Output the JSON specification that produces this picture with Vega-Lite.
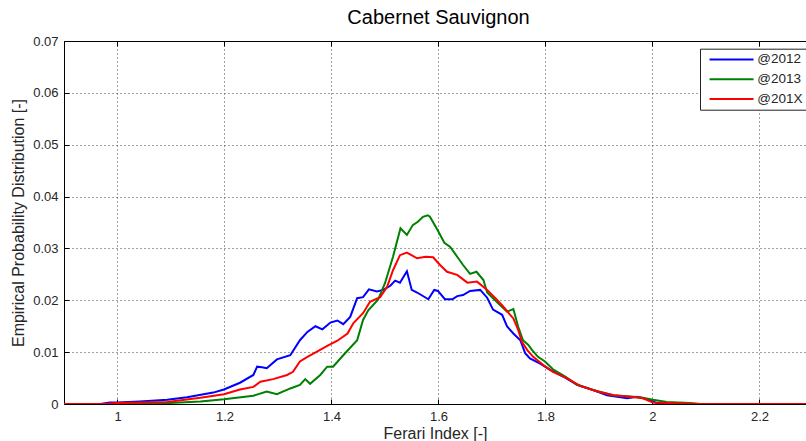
{
  "$schema": "https://vega.github.io/schema/vega-lite/v6.json",
  "width": 742,
  "height": 363,
  "autosize": {"type": "none"},
  "padding": {"left": 64, "top": 41, "right": 0, "bottom": 37},
  "background": "#ffffff",
  "title": {"text": "Cabernet Sauvignon", "font": "Liberation Sans", "fontSize": 20, "fontWeight": "normal", "color": "#000000", "anchor": "middle", "frame": "group", "dx": 3.5, "dy": 20, "offset": 11, "baseline": "alphabetic"},
  "config": {
    "view": {"stroke": null},
    "font": "Liberation Sans",
    "axis": {
      "labelFont": "Liberation Sans", "labelFontSize": 13, "labelColor": "#262626",
      "titleFont": "Liberation Sans", "titleFontSize": 16, "titleFontWeight": "normal", "titleColor": "#262626",
      "domainColor": "#000000", "domainWidth": 1, "tickColor": "#000000", "tickWidth": 1,
      "gridColor": "#444444", "gridDash": [1, 3], "gridWidth": 1, "gridOpacity": 1
    },
    "legend": {
      "orient": "none", "legendX": 636, "legendY": 7.7, "title": null,
      "strokeColor": "#222222", "fillColor": "#ffffff", "padding": 4, "cornerRadius": 0,
      "symbolType": "M-4,0L4,0", "symbolSize": 121, "symbolStrokeWidth": 2, "symbolOffset": 20.8,
      "labelFont": "Liberation Sans", "labelFontSize": 13.5, "labelColor": "#262626", "labelOffset": 19,
      "rowPadding": 4.8
    }
  },
  "data": {"values": [
    {"s":"@2012","x":0.9,"y":0},{"s":"@2012","x":0.968,"y":0},{"s":"@2012","x":0.986,"y":0.0003},{"s":"@2012","x":0.999,"y":0.0003},{"s":"@2012","x":1.042,"y":0.0005},{"s":"@2012","x":1.093,"y":0.0008},{"s":"@2012","x":1.13,"y":0.0013},{"s":"@2012","x":1.179,"y":0.0022},{"s":"@2012","x":1.199,"y":0.0028},{"s":"@2012","x":1.229,"y":0.0041},{"s":"@2012","x":1.254,"y":0.0056},{"s":"@2012","x":1.261,"y":0.0072},{"s":"@2012","x":1.27,"y":0.0071},{"s":"@2012","x":1.279,"y":0.0069},{"s":"@2012","x":1.298,"y":0.0086},{"s":"@2012","x":1.323,"y":0.0094},{"s":"@2012","x":1.341,"y":0.0123},{"s":"@2012","x":1.355,"y":0.0139},{"s":"@2012","x":1.37,"y":0.015},{"s":"@2012","x":1.383,"y":0.0144},{"s":"@2012","x":1.398,"y":0.0157},{"s":"@2012","x":1.411,"y":0.0161},{"s":"@2012","x":1.422,"y":0.0154},{"s":"@2012","x":1.435,"y":0.0168},{"s":"@2012","x":1.448,"y":0.0204},{"s":"@2012","x":1.459,"y":0.0206},{"s":"@2012","x":1.47,"y":0.0221},{"s":"@2012","x":1.485,"y":0.0217},{"s":"@2012","x":1.497,"y":0.022},{"s":"@2012","x":1.51,"y":0.0228},{"s":"@2012","x":1.519,"y":0.0238},{"s":"@2012","x":1.528,"y":0.0234},{"s":"@2012","x":1.541,"y":0.0256},{"s":"@2012","x":1.55,"y":0.022},{"s":"@2012","x":1.56,"y":0.0215},{"s":"@2012","x":1.581,"y":0.0202},{"s":"@2012","x":1.592,"y":0.022},{"s":"@2012","x":1.599,"y":0.0218},{"s":"@2012","x":1.612,"y":0.0202},{"s":"@2012","x":1.626,"y":0.0202},{"s":"@2012","x":1.635,"y":0.0208},{"s":"@2012","x":1.646,"y":0.021},{"s":"@2012","x":1.659,"y":0.0218},{"s":"@2012","x":1.678,"y":0.022},{"s":"@2012","x":1.691,"y":0.0205},{"s":"@2012","x":1.702,"y":0.0182},{"s":"@2012","x":1.719,"y":0.0172},{"s":"@2012","x":1.728,"y":0.015},{"s":"@2012","x":1.74,"y":0.0136},{"s":"@2012","x":1.753,"y":0.0123},{"s":"@2012","x":1.762,"y":0.0098},{"s":"@2012","x":1.771,"y":0.0088},{"s":"@2012","x":1.79,"y":0.0078},{"s":"@2012","x":1.809,"y":0.0066},{"s":"@2012","x":1.833,"y":0.0053},{"s":"@2012","x":1.859,"y":0.0037},{"s":"@2012","x":1.889,"y":0.0027},{"s":"@2012","x":1.915,"y":0.0017},{"s":"@2012","x":1.953,"y":0.0011},{"s":"@2012","x":1.971,"y":0.0014},{"s":"@2012","x":1.995,"y":0.0008},{"s":"@2012","x":2.007,"y":0.0002},{"s":"@2012","x":2.033,"y":0.0001},{"s":"@2012","x":2.07,"y":0},{"s":"@2012","x":2.287,"y":0},
    {"s":"@2013","x":0.9,"y":0},{"s":"@2013","x":1.061,"y":0},{"s":"@2013","x":1.098,"y":0.0002},{"s":"@2013","x":1.155,"y":0.0005},{"s":"@2013","x":1.199,"y":0.0009},{"s":"@2013","x":1.254,"y":0.0016},{"s":"@2013","x":1.279,"y":0.0024},{"s":"@2013","x":1.298,"y":0.0019},{"s":"@2013","x":1.323,"y":0.003},{"s":"@2013","x":1.341,"y":0.0037},{"s":"@2013","x":1.351,"y":0.0048},{"s":"@2013","x":1.36,"y":0.0039},{"s":"@2013","x":1.379,"y":0.0056},{"s":"@2013","x":1.392,"y":0.0072},{"s":"@2013","x":1.403,"y":0.0072},{"s":"@2013","x":1.422,"y":0.0094},{"s":"@2013","x":1.448,"y":0.0123},{"s":"@2013","x":1.459,"y":0.0162},{"s":"@2013","x":1.469,"y":0.0181},{"s":"@2013","x":1.487,"y":0.0201},{"s":"@2013","x":1.5,"y":0.0233},{"s":"@2013","x":1.515,"y":0.0284},{"s":"@2013","x":1.529,"y":0.0339},{"s":"@2013","x":1.541,"y":0.0326},{"s":"@2013","x":1.552,"y":0.0345},{"s":"@2013","x":1.562,"y":0.0352},{"s":"@2013","x":1.571,"y":0.0361},{"s":"@2013","x":1.58,"y":0.0364},{"s":"@2013","x":1.584,"y":0.0361},{"s":"@2013","x":1.598,"y":0.0336},{"s":"@2013","x":1.611,"y":0.0311},{"s":"@2013","x":1.622,"y":0.0303},{"s":"@2013","x":1.635,"y":0.0284},{"s":"@2013","x":1.646,"y":0.0268},{"s":"@2013","x":1.659,"y":0.0251},{"s":"@2013","x":1.671,"y":0.0255},{"s":"@2013","x":1.684,"y":0.0239},{"s":"@2013","x":1.691,"y":0.0215},{"s":"@2013","x":1.702,"y":0.0204},{"s":"@2013","x":1.715,"y":0.0191},{"s":"@2013","x":1.728,"y":0.0178},{"s":"@2013","x":1.74,"y":0.0183},{"s":"@2013","x":1.749,"y":0.0149},{"s":"@2013","x":1.758,"y":0.0123},{"s":"@2013","x":1.768,"y":0.0114},{"s":"@2013","x":1.775,"y":0.0104},{"s":"@2013","x":1.786,"y":0.0091},{"s":"@2013","x":1.799,"y":0.0082},{"s":"@2013","x":1.814,"y":0.0067},{"s":"@2013","x":1.837,"y":0.0053},{"s":"@2013","x":1.859,"y":0.0037},{"s":"@2013","x":1.889,"y":0.0027},{"s":"@2013","x":1.927,"y":0.0017},{"s":"@2013","x":1.977,"y":0.0013},{"s":"@2013","x":2.001,"y":0.0008},{"s":"@2013","x":2.027,"y":0.0004},{"s":"@2013","x":2.07,"y":0.0002},{"s":"@2013","x":2.089,"y":0},{"s":"@2013","x":2.287,"y":0},
    {"s":"@201X","x":0.9,"y":0},{"s":"@201X","x":0.977,"y":0},{"s":"@201X","x":0.999,"y":0.0002},{"s":"@201X","x":1.093,"y":0.0004},{"s":"@201X","x":1.155,"y":0.0012},{"s":"@201X","x":1.199,"y":0.0019},{"s":"@201X","x":1.229,"y":0.0028},{"s":"@201X","x":1.254,"y":0.0033},{"s":"@201X","x":1.267,"y":0.0043},{"s":"@201X","x":1.291,"y":0.0048},{"s":"@201X","x":1.317,"y":0.0056},{"s":"@201X","x":1.328,"y":0.0062},{"s":"@201X","x":1.341,"y":0.0082},{"s":"@201X","x":1.355,"y":0.0091},{"s":"@201X","x":1.373,"y":0.0101},{"s":"@201X","x":1.392,"y":0.0112},{"s":"@201X","x":1.411,"y":0.0122},{"s":"@201X","x":1.43,"y":0.0136},{"s":"@201X","x":1.441,"y":0.0156},{"s":"@201X","x":1.459,"y":0.0175},{"s":"@201X","x":1.472,"y":0.0197},{"s":"@201X","x":1.491,"y":0.0206},{"s":"@201X","x":1.504,"y":0.0226},{"s":"@201X","x":1.515,"y":0.0258},{"s":"@201X","x":1.528,"y":0.0287},{"s":"@201X","x":1.541,"y":0.0292},{"s":"@201X","x":1.56,"y":0.0281},{"s":"@201X","x":1.576,"y":0.0284},{"s":"@201X","x":1.59,"y":0.0283},{"s":"@201X","x":1.603,"y":0.0268},{"s":"@201X","x":1.616,"y":0.0255},{"s":"@201X","x":1.635,"y":0.0249},{"s":"@201X","x":1.654,"y":0.0234},{"s":"@201X","x":1.672,"y":0.0236},{"s":"@201X","x":1.691,"y":0.022},{"s":"@201X","x":1.71,"y":0.02},{"s":"@201X","x":1.721,"y":0.0188},{"s":"@201X","x":1.734,"y":0.0172},{"s":"@201X","x":1.74,"y":0.0165},{"s":"@201X","x":1.749,"y":0.0143},{"s":"@201X","x":1.756,"y":0.012},{"s":"@201X","x":1.766,"y":0.0104},{"s":"@201X","x":1.777,"y":0.0091},{"s":"@201X","x":1.796,"y":0.0075},{"s":"@201X","x":1.814,"y":0.0062},{"s":"@201X","x":1.84,"y":0.005},{"s":"@201X","x":1.865,"y":0.0035},{"s":"@201X","x":1.897,"y":0.0024},{"s":"@201X","x":1.927,"y":0.0017},{"s":"@201X","x":1.958,"y":0.0014},{"s":"@201X","x":1.982,"y":0.0011},{"s":"@201X","x":2.001,"y":0.0003},{"s":"@201X","x":2.052,"y":0.0001},{"s":"@201X","x":2.089,"y":0},{"s":"@201X","x":2.287,"y":0}
  ]},
  "layer": [
    {
      "mark": {"type": "line", "strokeWidth": 2, "clip": true},
      "encoding": {
        "x": {"field": "x", "type": "quantitative", "scale": {"domain": [0.9, 2.287], "nice": false, "zero": false},
              "axis": {"orient": "bottom", "title": "Ferari Index [-]", "values": [1, 1.2, 1.4, 1.6, 1.8, 2, 2.2], "format": "~g",
                       "tickSize": -5, "labelPadding": 11, "titleY": 34, "titleBaseline": "alphabetic"}},
        "y": {"field": "y", "type": "quantitative", "scale": {"domain": [0, 0.07], "nice": false},
              "axis": {"title": "Empirical Probability Distribution [-]", "values": [0, 0.01, 0.02, 0.03, 0.04, 0.05, 0.06, 0.07], "format": "~g",
                       "tickSize": -5, "labelPadding": 11, "titleX": -46, "titleY": 181.5, "titleBaseline": "middle", "titleAlign": "center", "titleAngle": 270}},
        "color": {"field": "s", "type": "nominal", "scale": {"domain": ["@2012", "@2013", "@201X"], "range": ["#0000ff", "#008000", "#ff0000"]}},
        "order": {"field": "x", "type": "quantitative"}
      }
    },
    {
      "mark": {"type": "line", "opacity": 0},
      "encoding": {
        "x": {"field": "x", "type": "quantitative", "scale": {"domain": [0.9, 2.287], "nice": false, "zero": false},
              "axis": {"orient": "top", "title": null, "labels": false, "grid": false, "values": [1, 1.2, 1.4, 1.6, 1.8, 2, 2.2], "tickSize": -5}},
        "detail": {"field": "s", "type": "nominal"}
      }
    }
  ],
  "resolve": {"axis": {"x": "independent"}}
}
